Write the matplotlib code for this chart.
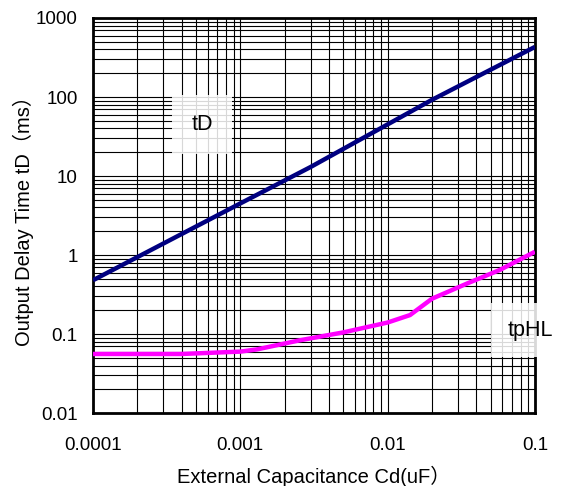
import matplotlib
matplotlib.use('Agg')
import matplotlib.pyplot as plt
from matplotlib.ticker import LogLocator, FixedLocator, NullFormatter

plt.rcParams['font.family'] = ['Liberation Sans', 'Noto Sans CJK JP', 'DejaVu Sans']

# data
cd_td = [0.0001, 0.001, 0.003, 0.01, 0.02, 0.1]
td = [0.48, 4.5, 13, 45, 92, 430]

cd_tphl = [0.0001, 0.0004, 0.001, 0.0013, 0.0025, 0.005, 0.01, 0.0142, 0.02, 0.035, 0.058, 0.1]
tphl = [0.056, 0.056, 0.06, 0.064, 0.083, 0.105, 0.14, 0.174, 0.28, 0.44, 0.65, 1.1]

xticks = [0.0001, 0.001, 0.01, 0.1]
xtick_labels = ['0.0001', '0.001', '0.01', '0.1']
yticks = [0.01, 0.1, 1, 10, 100, 1000]
ytick_labels = ['0.01', '0.1', '1', '10', '100', '1000']

fig = plt.figure(figsize=(5.68, 4.86), dpi=100)
ax = fig.add_axes([0.1637, 0.150, 0.778, 0.813])

ax.set_xscale('log')
ax.set_yscale('log')
ax.set_xlim(0.0001, 0.1)
ax.set_ylim(0.01, 1000)

ax.plot(cd_td, td, color='#000080', lw=3.2, solid_capstyle='butt', zorder=3)
ax.plot(cd_tphl, tphl, color='#ff00ff', lw=3.2, solid_capstyle='butt', zorder=3)

ax.xaxis.set_major_locator(FixedLocator(xticks))
ax.set_xticklabels(xtick_labels)
ax.yaxis.set_major_locator(FixedLocator(yticks))
ax.set_yticklabels(ytick_labels)
ax.xaxis.set_minor_locator(LogLocator(base=10, subs=range(2, 10)))
ax.yaxis.set_minor_locator(LogLocator(base=10, subs=range(2, 10)))
ax.xaxis.set_minor_formatter(NullFormatter())
ax.yaxis.set_minor_formatter(NullFormatter())
ax.tick_params(which='both', length=0, labelsize=13.5)
ax.tick_params(axis='x', pad=17)
ax.tick_params(axis='y', pad=11)

ax.grid(which='both', color='black', lw=0.8)
for s in ax.spines.values():
    s.set_linewidth(2)

ax.set_xlabel('External Capacitance Cd(uF）', fontsize=14.5, labelpad=9)
ax.set_ylabel('Output Delay Time tD（ms）', fontsize=14.5, labelpad=1)

ax.text(0.00055, 45, 'tD', fontsize=15.5, ha='center', va='center', zorder=4,
        bbox=dict(facecolor='white', edgecolor='none', alpha=0.85, pad=14))
ax.text(0.0927, 0.112, 'tpHL', fontsize=15.5, ha='center', va='center', zorder=4,
        clip_on=False,
        bbox=dict(facecolor='white', edgecolor='none', alpha=0.85, pad=12))

fig.savefig('out.png', dpi=100)
plt.close()
